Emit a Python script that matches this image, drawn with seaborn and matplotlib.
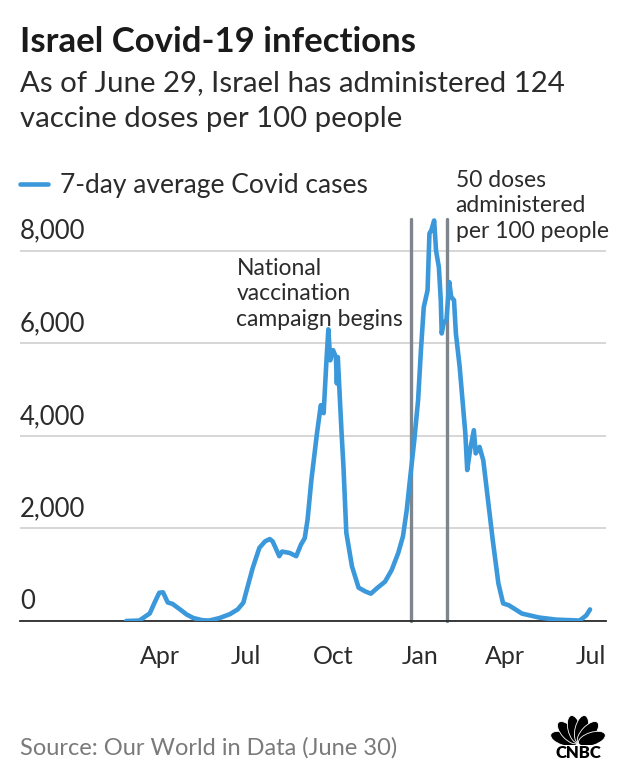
#Israel Covid-19 infections - 7 day average (CNBC style)
import math
import pandas as pd
import matplotlib.pyplot as plt
from matplotlib.patches import Ellipse
import seaborn as sns

#Data
datas = ['2020-02-25', '2020-03-10', '2020-03-21', '2020-03-26', '2020-03-31', '2020-04-04',
         '2020-04-09', '2020-04-14', '2020-04-22', '2020-04-29', '2020-05-06', '2020-05-16',
         '2020-05-23', '2020-06-03', '2020-06-14', '2020-06-22', '2020-06-28', '2020-07-02',
         '2020-07-08', '2020-07-15', '2020-07-21', '2020-07-26', '2020-07-29', '2020-08-02',
         '2020-08-05', '2020-08-08', '2020-08-16', '2020-08-23', '2020-08-28', '2020-09-01',
         '2020-09-04', '2020-09-08', '2020-09-14', '2020-09-18', '2020-09-21', '2020-09-24',
         '2020-09-26', '2020-09-28', '2020-10-01', '2020-10-04', '2020-10-05', '2020-10-06',
         '2020-10-10', '2020-10-12', '2020-10-15', '2020-10-21', '2020-10-28', '2020-11-04',
         '2020-11-10', '2020-11-16', '2020-11-25', '2020-12-02', '2020-12-09', '2020-12-14',
         '2020-12-18', '2020-12-21', '2020-12-26', '2020-12-30', '2021-01-02', '2021-01-05',
         '2021-01-09', '2021-01-11', '2021-01-13', '2021-01-16', '2021-01-18', '2021-01-21',
         '2021-01-23', '2021-01-24', '2021-01-26', '2021-01-29', '2021-02-01', '2021-02-03',
         '2021-02-06', '2021-02-08', '2021-02-12', '2021-02-15', '2021-02-18', '2021-02-20',
         '2021-02-23', '2021-02-27', '2021-03-01', '2021-03-05', '2021-03-09', '2021-03-14',
         '2021-03-19', '2021-03-25', '2021-03-30', '2021-04-05', '2021-04-19', '2021-05-07',
         '2021-05-25', '2021-06-19', '2021-06-26', '2021-06-30']
casos = [0, 10, 165, 395, 610, 620,
         400, 370, 250, 140, 65, 15,
         10, 65, 150, 250, 395, 700,
         1150, 1580, 1720, 1770, 1720, 1540,
         1400, 1500, 1470, 1400, 1650, 1790,
         2190, 3040, 4060, 4660, 4490, 5630,
         6300, 5630, 5850, 5700, 5130, 5700,
         4060, 3330, 1910, 1180, 720, 640,
         590, 700, 850, 1100, 1470, 1830,
         2400, 2980, 3910, 4770, 5850, 6780,
         7140, 8370, 8440, 8650, 8000, 7640,
         6930, 6210, 6430, 6500, 7320, 7000,
         6930, 6210, 5490, 4770, 4050, 3260,
         3690, 4120, 3620, 3760, 3470, 2610,
         1750, 810, 380, 340, 160, 75,
         30, 10, 120, 250]
marcos = ['2020-12-23', '2021-01-30']
marcos_texto = ['National\nvaccination\ncampaign begins', '50 doses\nadministered\nper 100 people']
y_ticks = [0, 2000, 4000, 6000, 8000]
x_ticks = ['2020-04-01', '2020-07-01', '2020-10-01', '2021-01-01', '2021-04-01', '2021-07-01']
x_labels = ['Apr', 'Jul', 'Oct', 'Jan', 'Apr', 'Jul']

covid = pd.DataFrame({'data': pd.to_datetime(datas), 'casos': casos})

sns.set_style('white')
plt.rcParams['font.family'] = ['Lato', 'DejaVu Sans']
texto = '#2b2b2b'
azul = '#3b98da'

fig = plt.figure(figsize=(6.3, 7.83), dpi=100)
ax = fig.add_axes([20/630, 1-621/783, 586/630, (621-204.3)/783])

sns.lineplot(data=covid, x='data', y='casos', color=azul, linewidth=3.3, ax=ax,
             label='7-day average Covid cases', zorder=3)

#Limites
inicio = pd.Timestamp('2020-04-01')
ax.set_xlim(inicio - pd.Timedelta(days=148.4), inicio + pd.Timedelta(days=471.9))
ax.set_ylim(0, 9000)

#Grade e eixos
ax.set_yticks(y_ticks)
ax.yaxis.grid(True, color='#d3d3d3', linewidth=1.3)
ax.xaxis.grid(False)
ax.tick_params(axis='y', length=0, labelleft=False)
for v in y_ticks:
    ax.annotate(f'{v:,}', xy=(0, v), xycoords=('axes fraction', 'data'),
                xytext=(0, 5), textcoords='offset points', ha='left', va='bottom',
                fontsize=18.5, color=texto)
ax.set_xticks(pd.to_datetime(x_ticks))
ax.set_xticklabels(x_labels)
ax.tick_params(axis='x', length=6, width=1.3, color=texto, labelsize=18,
               labelcolor=texto, pad=11)
for lado in ['top', 'right', 'left']:
    ax.spines[lado].set_visible(False)
ax.spines['bottom'].set_color(texto)
ax.spines['bottom'].set_linewidth(1.3)
ax.set_xlabel('')
ax.set_ylabel('')

#Linhas verticais e anotacoes
for m in marcos:
    d = pd.Timestamp(m)
    ax.plot([d, d], [0, 8680], color='#7f858c', linewidth=2.4, zorder=2, clip_on=False)
marco1 = pd.Timestamp(marcos[0])
marco2 = pd.Timestamp(marcos[1])
ax.annotate(marcos_texto[0], xy=(marco1, 7063), xytext=(-6, 0), textcoords='offset points',
            ha='right', va='center', multialignment='left', fontsize=16.5,
            color=texto, linespacing=1.25, annotation_clip=False)
ax.annotate(marcos_texto[1], xy=(marco2, 8964), xytext=(6, 0), textcoords='offset points',
            ha='left', va='center', multialignment='left', fontsize=16.5,
            color=texto, linespacing=1.25, annotation_clip=False)

#Legenda
ax.legend(loc='center left', bbox_to_anchor=(20/630, 1-186/783), bbox_transform=fig.transFigure,
          frameon=False, fontsize=19, handlelength=1.05, handletextpad=0.45,
          borderpad=0, borderaxespad=0, labelcolor=texto)

#Titulos
fig.text(20/630, 1-52/783, 'Israel Covid-19 infections', fontsize=25, weight='bold',
         color='#1a1a1a', va='baseline')
fig.text(20/630, 1-91/783, 'As of June 29, Israel has administered 124', fontsize=21.2,
         color=texto, va='baseline')
fig.text(20/630, 1-127/783, 'vaccine doses per 100 people', fontsize=21.2,
         color=texto, va='baseline')
fig.text(20/630, 1-748/783, 'Source: Our World in Data (June 30)', fontsize=17,
         color='#7a7a7a', va='center')

#Logo CNBC simplificado
logo = fig.add_axes([550/630, 1-745/783, 56/630, 34/783])
logo.set_xlim(-1, 1)
logo.set_ylim(0, 34/28)
logo.axis('off')
for ang in [-72, -43, -14, 14, 43, 72]:
    r = 0.52
    cx = r*math.sin(math.radians(ang))
    cy = 0.06 + r*math.cos(math.radians(ang))
    logo.add_patch(Ellipse((cx, cy), 0.46, 1.0, angle=-ang, facecolor='black',
                           edgecolor='white', linewidth=0.6))
fig.text(578/630, 1-753/783, 'CNBC', fontsize=12, weight='heavy', color='black',
         ha='center', va='center')

fig.savefig('out.png', dpi=100)
